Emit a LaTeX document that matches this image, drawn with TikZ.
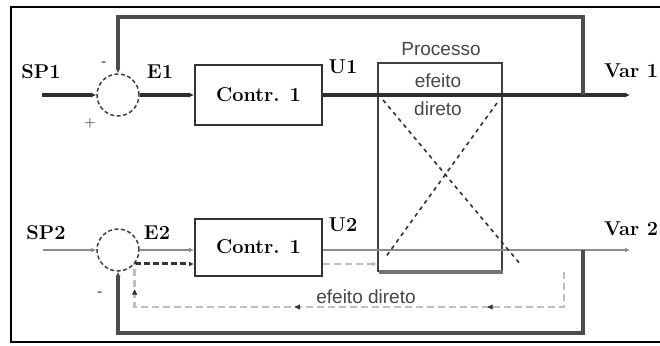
\documentclass[tikz,border=0pt]{standalone}
\usepackage{fontspec}
\newfontfamily\sansf{Liberation Sans}
\usetikzlibrary{arrows.meta,decorations.markings}
\begin{document}
\begin{tikzpicture}[x=1pt,y=-1pt,
  lbl/.style={font=\fontsize{20}{22}\selectfont\bfseries, inner sep=0pt},
  ctrl/.style={draw=black!80, line width=2pt, minimum width=127pt, minimum height=60pt,
    font=\fontsize{20}{22}\selectfont\bfseries, fill=white, inner sep=0pt},
  sumc/.style={circle, draw=black!75, dash pattern=on 4pt off 2.5pt, line width=1.5pt,
    minimum size=42pt, inner sep=0pt},
  proct/.style={font=\sansf\fontsize{19}{21}\selectfont, text=black!72, inner sep=0pt},
  sgn/.style={font=\fontsize{13}{14}\selectfont\bfseries, text=black!75, inner sep=0pt},
  thickline/.style={line width=4pt, draw=black!82},
  thinline/.style={line width=1.6pt, draw=black!45},
  fbline/.style={line width=4pt, draw=black!70},
  tipb/.style={-{Latex[length=5pt,width=5pt]}},
  dashblk/.style={line width=3pt, draw=black!80, dash pattern=on 6pt off 3pt},
  dashgry/.style={line width=2.5pt, draw=black!25, dash pattern=on 7pt off 4pt},
  xdash/.style={line width=1.6pt, draw=black!80, dash pattern=on 4pt off 4pt},
  midleft/.style={postaction={decorate}, decoration={markings,
    mark=at position #1 with {\arrow[black!80]{Latex[length=5pt,width=5pt]}}}}
]
\useasboundingbox (0,0) rectangle (660,345);
\fill[white] (0,0) rectangle (660,345);
% frame
\draw[line width=2pt, black] (661,7) -- (11,7) -- (11,342) -- (661,342);

% process box
\node[draw=black!75, line width=2pt, minimum width=124pt, minimum height=208pt, inner sep=0pt]
  (proc) at (440,167) {};
\draw[line width=4pt, black!55] ([xshift=2pt]proc.south west) -- (proc.south east);
\node[proct] (ptitle) at (441,49) {Processo};
\node[proct] (pdir1) at (438,81) {efeito};
\node[proct] (pdir2) at (438,109) {direto};

% loop 1
\node[sumc] (c1) at (118,95) {};
\node[ctrl] (k1) at (258.5,95) {Contr. 1};
\coordinate (sp1) at (42,95);
\coordinate (v1) at (630,95);
\coordinate (fb1) at (583,95);
\node[lbl] (tsp1) at (41,72) {SP1};
\node[lbl] (te1) at (160,72) {E1};
\node[lbl] (tu1) at (343,67) {U1};
\node[lbl] (tv1) at (631,71) {Var 1};
\node[sgn] (plus1) at (90,123) {+};
\node[sgn] (minus1) at (104,64) {-};

\draw[thickline, tipb] (sp1) -- (c1.west);
\draw[thickline, tipb] (c1.east) -- (k1.west);
\draw[thickline, tipb] (k1.east) -- (v1);
\draw[fbline, tipb] (fb1) -- ++(0,-78) -| (c1.north);

% loop 2
\node[sumc] (c2) at (118,250) {};
\node[ctrl, minimum height=57pt] (k2) at (258.5,247) {Contr. 1};
\coordinate (sp2) at (43,250);
\coordinate (v2) at (630,250);
\coordinate (fb2) at (583,250);
\node[lbl] (tsp2) at (46,233) {SP2};
\node[lbl] (te2) at (157,233) {E2};
\node[lbl] (tu2) at (343,225) {U2};
\node[lbl] (tv2) at (631,229) {Var 2};
\node[sgn] (minus2) at (100,294) {-};

\draw[thinline, tipb] (sp2) -- (c2.west);
\draw[thinline, tipb] (c2.east) -- (c2.east -| k2.west);
\draw[thinline, tipb] (c2.east -| k2.east) -- (v2);
\draw[fbline, tipb] (fb2) -- ++(0,83) -| (c2.south);

% dashed paths
\draw[dashblk, tipb] (c2.-40) -- (c2.-40 -| k2.west);
\draw[dashgry, tipb] (c2.-40 -| k2.east) -- (c2.-40 -| proc.west);
\coordinate (dl) at (564,272);
\draw[dashgry, midleft/.list={0.22,0.6,0.95}] (dl) -- ++(0,35) -| (c2.-40);
\node[proct] (bdir) at (366,297) {efeito direto};

% cross effects
\coordinate (xa) at (383,100);
\coordinate (xb) at (521,265);
\coordinate (xc) at (497,103);
\coordinate (xd) at (385,258);
\draw[xdash] (xa) -- (xb);
\draw[xdash] (xc) -- (xd);
\end{tikzpicture}
\end{document}
